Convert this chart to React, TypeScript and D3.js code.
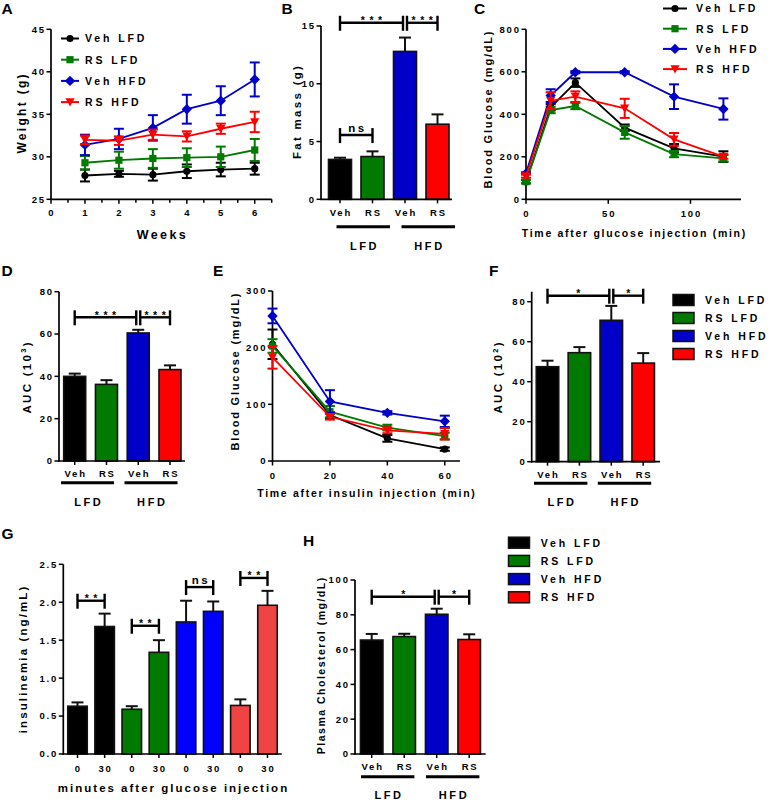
import React from 'react';
import * as d3 from 'd3';

const FONT = "'Liberation Sans', Arial, Helvetica, sans-serif";

// ---------- shared categories ----------
const groupNames = ['Veh LFD', 'RS LFD', 'Veh HFD', 'RS HFD'];
const groupColors = ['#000000', '#007a00', '#0000c8', '#ff0000'];
const groupShapes = ['circle', 'square', 'diamond', 'triangle'];
const barLabels = ['Veh', 'RS', 'Veh', 'RS'];
const dietLabels = ['LFD', 'HFD'];

// ---------- A: body weight ----------
const weeks = [1, 2, 3, 4, 5, 6];
const weekTicks = [0, 1, 2, 3, 4, 5, 6];
const weightTicks = [25, 30, 35, 40, 45];
const weightVehLFD = [27.8, 28.0, 27.9, 28.3, 28.5, 28.6];
const weightVehLFDErr = [0.7, 0.35, 0.7, 0.8, 0.8, 0.7];
const weightRSLFD = [29.3, 29.6, 29.8, 29.9, 30.0, 30.8];
const weightRSLFDErr = [0.8, 1.0, 1.1, 1.1, 1.2, 1.3];
const weightVehHFD = [31.4, 32.1, 33.4, 35.6, 36.6, 39.1];
const weightVehHFDErr = [1.2, 1.2, 1.5, 1.7, 1.7, 2.0];
const weightRSHFD = [32.0, 31.9, 32.6, 32.4, 33.3, 34.1];
const weightRSHFDErr = [0.5, 0.5, 0.6, 0.6, 0.6, 1.2];

// ---------- B: fat mass ----------
const fatMass = [3.45, 3.7, 12.8, 6.5];
const fatMassErr = [0.15, 0.45, 1.2, 0.85];
const fatTicks = [0, 5, 10, 15];
const fatBrackets = [
  { a: 0, b: 1, v: 5.56, label: 'ns' },
  { a: 0, b: 2, v: 15.28, label: '***' },
  { a: 2, b: 3, v: 15.28, label: '***' },
];

// ---------- C: GTT ----------
const gttTime = [0, 15, 30, 60, 90, 120];
const gttXTicks = [0, 50, 100];
const gttYTicks = [0, 200, 400, 600, 800];
const gttVehLFD = [83, 433, 549, 337, 240, 201];
const gttVehLFDErr = [8, 15, 20, 15, 20, 25];
const gttRSLFD = [83, 420, 439, 315, 213, 193];
const gttRSLFDErr = [8, 15, 15, 30, 15, 15];
const gttVehHFD = [122, 488, 598, 598, 483, 425];
const gttVehHFDErr = [5, 30, 5, 5, 58, 50];
const gttRSHFD = [110, 464, 483, 428, 282, 201];
const gttRSHFDErr = [8, 40, 25, 45, 30, 10];

// ---------- D: GTT AUC ----------
const gttAuc = [40.0, 36.2, 60.5, 43.2];
const gttAucErr = [1.3, 2.0, 1.5, 2.0];
const aucDTicks = [0, 20, 40, 60, 80];
const gttAucBrackets = [
  { a: 0, b: 2, v: 67.9, label: '***' },
  { a: 2, b: 3, v: 67.9, label: '***' },
];

// ---------- E: ITT ----------
const ittTime = [0, 20, 40, 60];
const ittXTicks = [0, 20, 40, 60];
const ittYTicks = [0, 100, 200, 300];
const ittVehLFD = [206, 81, 40, 21];
const ittVehLFDErr = [26, 5, 6, 3];
const ittRSLFD = [203, 87, 59, 44];
const ittRSLFDErr = [12, 10, 5, 6];
const ittVehHFD = [256, 105, 85, 70];
const ittVehHFDErr = [13, 20, 3, 10];
const ittRSHFD = [183, 78, 54, 48];
const ittRSHFDErr = [20, 5, 5, 10];

// ---------- F: ITT AUC ----------
const ittAuc = [47.5, 54.5, 70.7, 49.3];
const ittAucErr = [3.0, 2.8, 7.2, 5.0];
const aucFTicks = [0, 20, 40, 60, 80];
const ittAucBrackets = [
  { a: 0, b: 2, v: 83, label: '*' },
  { a: 2, b: 3, v: 83, label: '*' },
];

// ---------- G: insulinemia ----------
const insLabels = ['0', '30', '0', '30', '0', '30', '0', '30'];
const insColors = ['#000000', '#000000', '#007a00', '#007a00', '#0000ff', '#0000ff', '#f04444', '#f04444'];
const insulin = [0.63, 1.68, 0.59, 1.34, 1.74, 1.88, 0.64, 1.96];
const insulinErr = [0.05, 0.17, 0.04, 0.16, 0.28, 0.13, 0.08, 0.19];
const insTicks = [0, 0.5, 1.0, 1.5, 2.0, 2.5];
const insBrackets = [
  { a: 0, b: 1, v: 2.02, label: '**' },
  { a: 2, b: 3, v: 1.69, label: '**' },
  { a: 4, b: 5, v: 2.2, label: 'ns' },
  { a: 6, b: 7, v: 2.32, label: '**' },
];

// ---------- H: cholesterol ----------
const chol = [65.5, 67.5, 80.3, 65.8];
const cholErr = [3.5, 1.6, 3.2, 3.0];
const cholTicks = [0, 20, 40, 60, 80, 100];
const cholBrackets = [
  { a: 0, b: 2, v: 90.4, label: '*' },
  { a: 2, b: 3, v: 90.4, label: '*' },
];

// ================= helpers =================
function T(props: any) {
  const { x, y, fs = 9.5, ls = 1.8, anchor = 'middle', rotate = false, children, fill = '#000' } = props;
  const dx = anchor === 'middle' ? ls / 2 : anchor === 'end' ? ls : 0;
  if (rotate) {
    return (
      <text transform={`translate(${x},${y}) rotate(-90)`} x={dx} y={0} fontSize={fs} fontWeight="bold"
        letterSpacing={ls} textAnchor={anchor} fill={fill} fontFamily={FONT}>{children}</text>
    );
  }
  return (
    <text x={x + dx} y={y} fontSize={fs} fontWeight="bold" letterSpacing={ls} textAnchor={anchor}
      fill={fill} fontFamily={FONT}>{children}</text>
  );
}

function Marker({ shape, x, y, color }: any) {
  if (shape === 'circle') return <circle cx={x} cy={y} r={3.6} fill={color} />;
  if (shape === 'square') return <rect x={x - 3.6} y={y - 3.6} width={7.2} height={7.2} fill={color} />;
  if (shape === 'diamond')
    return <path d={`M${x},${y - 5.2}L${x + 5.2},${y}L${x},${y + 5.2}L${x - 5.2},${y}Z`} fill={color} />;
  return <path d={`M${x - 4.6},${y - 3.8}L${x + 4.6},${y - 3.8}L${x},${y + 4.4}Z`} fill={color} />;
}

function YAxis({ y, x, ticks, fmt = (t: number) => String(t), top, fs = 9.5, ls = 1.8 }: any) {
  const y0 = y.range()[0];
  const yTop = top ?? y.range()[1];
  return (
    <g>
      <line x1={x} x2={x} y1={y0 + 0.8} y2={yTop} stroke="#000" strokeWidth={1.7} />
      {ticks.map((t: number) => (
        <g key={t}>
          <line x1={x - 4.5} x2={x} y1={y(t)} y2={y(t)} stroke="#000" strokeWidth={1.5} />
          <T x={x - 7} y={y(t) + 3.4} anchor="end" fs={fs} ls={ls}>{fmt(t)}</T>
        </g>
      ))}
    </g>
  );
}

function XAxisLinear({ x, yPos, ticks, minor = [], fs = 9.5, ls = 1.8, labelDy = 17 }: any) {
  const [r0, r1] = x.range();
  return (
    <g>
      <line x1={r0 - 0.8} x2={r1} y1={yPos} y2={yPos} stroke="#000" strokeWidth={1.7} />
      {minor.map((t: number) => (
        <line key={'m' + t} x1={x(t)} x2={x(t)} y1={yPos} y2={yPos + 3.5} stroke="#000" strokeWidth={1.5} />
      ))}
      {ticks.map((t: number) => (
        <g key={t}>
          <line x1={x(t)} x2={x(t)} y1={yPos} y2={yPos + 4.5} stroke="#000" strokeWidth={1.5} />
          <T x={x(t)} y={yPos + labelDy} fs={fs} ls={ls}>{String(t)}</T>
        </g>
      ))}
    </g>
  );
}

function LineSeries({ x, y, xs, series, capW = 10 }: any) {
  const line = d3.line<[number, number]>();
  return (
    <g>
      {series.map((s: any) => (
        <g key={s.name}>
          {xs.map((xv: number, i: number) => {
            const e = s.err[i];
            const cx = x(xv);
            const yt = y(s.values[i] + e);
            const yb = y(s.values[i] - e);
            return (
              <g key={i} stroke={s.color} strokeWidth={2}>
                <line x1={cx} x2={cx} y1={yt} y2={yb} />
                <line x1={cx - capW / 2} x2={cx + capW / 2} y1={yt} y2={yt} />
                <line x1={cx - capW / 2} x2={cx + capW / 2} y1={yb} y2={yb} />
              </g>
            );
          })}
          <path d={line(xs.map((xv: number, i: number) => [x(xv), y(s.values[i])]) as any) || ''}
            fill="none" stroke={s.color} strokeWidth={1.8} />
          {xs.map((xv: number, i: number) => (
            <Marker key={i} shape={s.shape} x={x(xv)} y={y(s.values[i])} color={s.color} />
          ))}
        </g>
      ))}
    </g>
  );
}

function LineLegend({ x1, x2, tx, y0, dy }: any) {
  return (
    <g>
      {groupNames.map((n, i) => {
        const yy = y0 + i * dy;
        return (
          <g key={n}>
            <line x1={x1} x2={x2} y1={yy} y2={yy} stroke={groupColors[i]} strokeWidth={2} />
            <Marker shape={groupShapes[i]} x={(x1 + x2) / 2} y={yy} color={groupColors[i]} />
            <T x={tx} y={yy + 3.8} anchor="start" fs={10.5} ls={2.9}>{n}</T>
          </g>
        );
      })}
    </g>
  );
}

function BoxLegend({ x, tx, y0, dy }: any) {
  return (
    <g>
      {groupNames.map((n, i) => {
        const yy = y0 + i * dy;
        return (
          <g key={n}>
            <rect x={x} y={yy - 5.5} width={21} height={11} fill={groupColors[i]} stroke="#111" strokeWidth={1.5} />
            <T x={tx} y={yy + 3.8} anchor="start" fs={10.5} ls={2.9}>{n}</T>
          </g>
        );
      })}
    </g>
  );
}

function Brackets({ cx, y, brackets }: any) {
  return (
    <g>
      {brackets.map((b: any, i: number) => {
        const sharedA = brackets.some((o: any, j: number) => j !== i && o.b === b.a);
        const sharedB = brackets.some((o: any, j: number) => j !== i && o.a === b.b);
        const xa = cx(b.a) + (sharedA ? 2 : 0);
        const xb = cx(b.b) - (sharedB ? 2 : 0);
        const yy = y(b.v);
        const isStar = b.label.includes('*');
        return (
          <g key={i}>
            <line x1={xa} x2={xb} y1={yy} y2={yy} stroke="#000" strokeWidth={2.4} />
            <line x1={xa} x2={xa} y1={yy - 7} y2={yy + 8} stroke="#000" strokeWidth={2.4} />
            <line x1={xb} x2={xb} y1={yy - 7} y2={yy + 8} stroke="#000" strokeWidth={2.4} />
            {isStar ? (
              <T x={(xa + xb) / 2} y={yy + 1.5} fs={10.5} ls={4.5}>{b.label}</T>
            ) : (
              <T x={(xa + xb) / 2} y={yy - 3} fs={11.5} ls={2.5}>{b.label}</T>
            )}
          </g>
        );
      })}
    </g>
  );
}

function Bars({ cx, y, values, errors, colors, width, capW = 12 }: any) {
  const y0 = y(0);
  return (
    <g>
      {values.map((v: number, i: number) => {
        const c = cx(i);
        const yt = y(v);
        const ye = y(v + errors[i]);
        return (
          <g key={i}>
            <line x1={c} x2={c} y1={yt} y2={ye} stroke="#111" strokeWidth={2} />
            <line x1={c - capW / 2} x2={c + capW / 2} y1={ye} y2={ye} stroke="#111" strokeWidth={2} />
            <rect x={c - width / 2} y={yt} width={width} height={y0 - yt} fill={colors[i]} stroke="#111" strokeWidth={1.6} />
          </g>
        );
      })}
    </g>
  );
}

function BarXAxis({ cx, y0, x0, x1, n, labels, labelDy = 13.5, fs = 9.5, ls = 1.8 }: any) {
  return (
    <g>
      <line x1={x0 - 0.8} x2={x1} y1={y0} y2={y0} stroke="#000" strokeWidth={1.7} />
      {d3.range(n).map((i) => (
        <g key={i}>
          <line x1={cx(i)} x2={cx(i)} y1={y0} y2={y0 + 4} stroke="#000" strokeWidth={1.5} />
          <T x={cx(i)} y={y0 + labelDy + 3.5} fs={fs} ls={ls}>{labels[i]}</T>
        </g>
      ))}
    </g>
  );
}

function DietGroups({ cx, y0, lineDy, labelDy, extL, extR }: any) {
  const groups = [[0, 1], [2, 3]];
  return (
    <g>
      {groups.map((g, i) => {
        const xa = cx(g[0]) - extL;
        const xb = cx(g[1]) + extR;
        return (
          <g key={i}>
            <line x1={xa} x2={xb} y1={y0 + lineDy} y2={y0 + lineDy} stroke="#000" strokeWidth={3} />
            <T x={(xa + xb) / 2} y={y0 + labelDy + 4} fs={11} ls={2.6}>{dietLabels[i]}</T>
          </g>
        );
      })}
    </g>
  );
}

function PanelLetter({ x, y, children }: any) {
  return <text x={x} y={y} fontSize={15.5} fontWeight="bold" fontFamily={FONT} fill="#000">{children}</text>;
}

function mkSeries(vals: number[][], errs: number[][]) {
  return groupNames.map((n, i) => ({ name: n, color: groupColors[i], shape: groupShapes[i], values: vals[i], err: errs[i] }));
}

export default function App() {
  // A
  const xA = d3.scaleLinear().domain([0, 6.5]).range([51, 271.7]);
  const yA = d3.scaleLinear().domain([25, 45]).range([199.3, 29.3]);
  const seriesA = mkSeries(
    [weightVehLFD, weightRSLFD, weightVehHFD, weightRSHFD],
    [weightVehLFDErr, weightRSLFDErr, weightVehHFDErr, weightRSHFDErr]
  );
  // B
  const yB = d3.scaleLinear().domain([0, 15]).range([199.3, 26]);
  const cxB = d3.scaleLinear().domain([0, 3]).range([340, 437.5]);
  // C
  const xC = d3.scaleLinear().domain([0, 130.7]).range([526, 741]);
  const yC = d3.scaleLinear().domain([0, 800]).range([199.3, 29.3]);
  const seriesC = mkSeries(
    [gttVehLFD, gttRSLFD, gttVehHFD, gttRSHFD],
    [gttVehLFDErr, gttRSLFDErr, gttVehHFDErr, gttRSHFDErr]
  );
  // D
  const yD = d3.scaleLinear().domain([0, 80]).range([461, 291.7]);
  const cxD = d3.scaleLinear().domain([0, 3]).range([74.7, 170]);
  // E
  const xE = d3.scaleLinear().domain([0, 65.3]).range([272.5, 460]);
  const yE = d3.scaleLinear().domain([0, 300]).range([461, 291]);
  const seriesE = mkSeries(
    [ittVehLFD, ittRSLFD, ittVehHFD, ittRSHFD],
    [ittVehLFDErr, ittRSLFDErr, ittVehHFDErr, ittRSHFDErr]
  );
  // F
  const yF = d3.scaleLinear().domain([0, 80]).range([461.7, 301.7]);
  const cxF = d3.scaleLinear().domain([0, 3]).range([547.5, 643.2]);
  // G
  const yG = d3.scaleLinear().domain([0, 2.5]).range([754, 564.3]);
  const cxG = d3.scaleLinear().domain([0, 7]).range([77.5, 267.5]);
  // H
  const yH = d3.scaleLinear().domain([0, 100]).range([754, 580]);
  const cxH = d3.scaleLinear().domain([0, 3]).range([371.7, 469.2]);

  return (
    <svg width={779} height={809} style={{ position: 'absolute', left: 0, top: 0, background: '#fff' }}
      fontFamily={FONT}>
      <rect width={779} height={809} fill="#fff" />

      {/* ===== A ===== */}
      <PanelLetter x={1.5} y={13.5}>A</PanelLetter>
      <YAxis y={yA} x={51} ticks={weightTicks} />
      <XAxisLinear x={xA} yPos={199.3} ticks={weekTicks} minor={d3.range(0.5, 6.6, 1)} />
      <T x={26} y={114} rotate fs={12} ls={2.3}>Weight (g)</T>
      <T x={161.3} y={238.5} fs={12.5} ls={2.4}>Weeks</T>
      <LineSeries x={xA} y={yA} xs={weeks} series={seriesA} />
      <LineLegend x1={61} x2={79} tx={85} y0={38.5} dy={21.2} />

      {/* ===== B ===== */}
      <PanelLetter x={281.5} y={13.5}>B</PanelLetter>
      <YAxis y={yB} x={321} ticks={fatTicks} />
      <Bars cx={cxB} y={yB} values={fatMass} errors={fatMassErr} colors={groupColors} width={23} />
      <BarXAxis cx={cxB} y0={199.3} x0={321} x1={452} n={4} labels={barLabels} labelDy={13.4} />
      <DietGroups cx={cxB} y0={199.3} lineDy={27.4} labelDy={46.7} extL={3.5} extR={17.5} />
      <Brackets cx={cxB} y={yB} brackets={fatBrackets} />
      <T x={300.7} y={112.6} rotate fs={11.5} ls={2.3}>Fat mass (g)</T>

      {/* ===== C ===== */}
      <PanelLetter x={474} y={13.5}>C</PanelLetter>
      <YAxis y={yC} x={526} ticks={gttYTicks} />
      <XAxisLinear x={xC} yPos={199.3} ticks={gttXTicks} labelDy={18} />
      <T x={492.3} y={110} rotate fs={11} ls={1.8}>Blood Glucose (mg/dL)</T>
      <T x={633.5} y={237.2} fs={10.5} ls={1.7}>Time after glucose injection (min)</T>
      <LineSeries x={xC} y={yC} xs={gttTime} series={seriesC} />
      <LineLegend x1={663} x2={687} tx={696} y0={8.5} dy={20.2} />

      {/* ===== D ===== */}
      <PanelLetter x={1.5} y={275.5}>D</PanelLetter>
      <YAxis y={yD} x={59} ticks={aucDTicks} />
      <Bars cx={cxD} y={yD} values={gttAuc} errors={gttAucErr} colors={groupColors} width={22} />
      <BarXAxis cx={cxD} y0={461} x0={59} x1={185} n={4} labels={barLabels} labelDy={12.3} />
      <DietGroups cx={cxD} y0={461} lineDy={21.7} labelDy={40.7} extL={13.7} extR={7.5} />
      <Brackets cx={cxD} y={yD} brackets={gttAucBrackets} />
      <T x={30.7} y={378} rotate fs={11.5} ls={2.3}>
        AUC (10<tspan dy={-4.5} fontSize={7.5}>3</tspan><tspan dy={4.5}>)</tspan>
      </T>

      {/* ===== E ===== */}
      <PanelLetter x={213} y={275.5}>E</PanelLetter>
      <YAxis y={yE} x={272.5} ticks={ittYTicks} />
      <XAxisLinear x={xE} yPos={461} ticks={ittXTicks} labelDy={17.5} />
      <T x={239} y={372} rotate fs={11} ls={1.8}>Blood Glucose (mg/dL)</T>
      <T x={366} y={497} fs={10.5} ls={1.7}>Time after insulin injection (min)</T>
      <LineSeries x={xE} y={yE} xs={ittTime} series={seriesE} />

      {/* ===== F ===== */}
      <PanelLetter x={489} y={275.5}>F</PanelLetter>
      <YAxis y={yF} x={531.7} ticks={aucFTicks} top={291.7} />
      <Bars cx={cxF} y={yF} values={ittAuc} errors={ittAucErr} colors={groupColors} width={22.5} />
      <BarXAxis cx={cxF} y0={461.7} x0={531.7} x1={660} n={4} labels={barLabels} labelDy={12.6} />
      <DietGroups cx={cxF} y0={461.7} lineDy={21.6} labelDy={40} extL={13.5} extR={8} />
      <Brackets cx={cxF} y={yF} brackets={ittAucBrackets} />
      <T x={502.3} y={378} rotate fs={11.5} ls={2.3}>
        AUC (10<tspan dy={-4.5} fontSize={7.5}>2</tspan><tspan dy={4.5}>)</tspan>
      </T>
      <BoxLegend x={673} tx={705} y0={300} dy={18} />

      {/* ===== G ===== */}
      <PanelLetter x={1.5} y={539}>G</PanelLetter>
      <YAxis y={yG} x={63.3} ticks={insTicks} fmt={(t: number) => t.toFixed(1)} />
      <Bars cx={cxG} y={yG} values={insulin} errors={insulinErr} colors={insColors} width={19.5} />
      <BarXAxis cx={cxG} y0={754} x0={63.3} x1={281.7} n={8} labels={insLabels} labelDy={14.3} />
      <Brackets cx={cxG} y={yG} brackets={insBrackets} />
      <T x={27.3} y={660} rotate fs={11.5} ls={2.1}>insulinemia (ng/mL)</T>
      <T x={172.5} y={791.5} fs={11.5} ls={2.0}>minutes after glucose injection</T>

      {/* ===== H ===== */}
      <PanelLetter x={303} y={546}>H</PanelLetter>
      <YAxis y={yH} x={355} ticks={cholTicks} />
      <Bars cx={cxH} y={yH} values={chol} errors={cholErr} colors={groupColors} width={22.5} />
      <BarXAxis cx={cxH} y0={754} x0={355} x1={485.7} n={4} labels={barLabels} labelDy={12.7} />
      <DietGroups cx={cxH} y0={754} lineDy={22.7} labelDy={41} extL={10.7} extR={10.2} />
      <Brackets cx={cxH} y={yH} brackets={cholBrackets} />
      <T x={325} y={666} rotate fs={10.5} ls={1.5}>Plasma Cholesterol (mg/dL)</T>
      <BoxLegend x={508.5} tx={540.7} y0={542.7} dy={18.2} />
    </svg>
  );
}
